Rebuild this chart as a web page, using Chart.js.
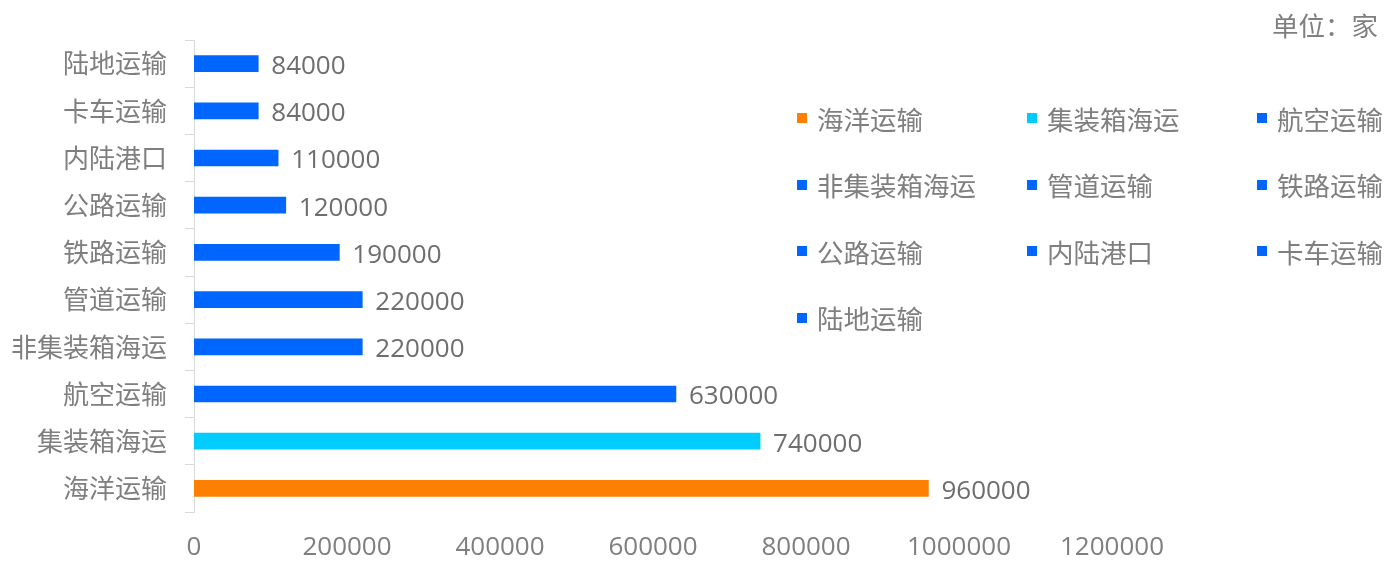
<!DOCTYPE html>
<html>
<head>
<meta charset="utf-8">
<script src="https://cdn.jsdelivr.net/npm/chart.js@4.4.1/dist/chart.umd.min.js"></script>
<style>
  html, body { margin: 0; padding: 0; background: #fff; }
  #wrap { position: relative; width: 1399px; height: 562px; }
  #unit { position: absolute; right: 21px; top: 5px; font: 26.5px "Noto Sans CJK SC", sans-serif; color: #7f7f7f; }
  #legend { position: absolute; left: 797px; top: 99px; display: grid; grid-template-columns: 230px 230px 130px; grid-auto-rows: 66.6px; }
  .item { display: flex; align-items: center; height: 38px; font: 26.5px "Noto Sans CJK SC", sans-serif; color: #7f7f7f; white-space: nowrap; }
  .item i { display: inline-block; width: 10px; height: 10px; margin-right: 10px; }
</style>
</head>
<body>
<div id="wrap">
  <canvas id="c" width="1399" height="562"></canvas>
  <div id="unit">单位：家</div>
  <div id="legend"></div>
</div>
<script>
// ── Data ──────────────────────────────────
const categories = ['海洋运输','集装箱海运','航空运输','非集装箱海运','管道运输','铁路运输','公路运输','内陆港口','卡车运输','陆地运输'];
const values = [960000, 740000, 630000, 220000, 220000, 190000, 120000, 110000, 84000, 84000];
const barColors = ['#FF7F00','#00CCFF','#0066FF','#0066FF','#0066FF','#0066FF','#0066FF','#0066FF','#0066FF','#0066FF'];
const xTicks = [0, 200000, 400000, 600000, 800000, 1000000, 1200000];

const FONT = '"Noto Sans CJK SC", sans-serif';
const NUM_FONT = '"Open Sans", "Noto Sans CJK SC", sans-serif';
const GREY = '#7f7f7f';

// value labels at the bar ends
const valueLabels = {
  id: 'valueLabels',
  afterDatasetsDraw(chart) {
    const ctx = chart.ctx;
    const meta = chart.getDatasetMeta(0);
    ctx.save();
    ctx.font = '26px ' + NUM_FONT;
    ctx.fillStyle = '#6e6e6e';
    ctx.textAlign = 'left';
    ctx.textBaseline = 'middle';
    meta.data.forEach((bar, i) => {
      ctx.fillText(String(values[i]), bar.x + 13, bar.y + 3);
    });
    ctx.restore();
  }
};

new Chart(document.getElementById('c'), {
  type: 'bar',
  data: {
    labels: categories,
    datasets: [{
      data: values,
      backgroundColor: barColors,
      barThickness: 16,
      borderWidth: 0,
    }]
  },
  options: {
    indexAxis: 'y',
    responsive: false,
    animation: false,
    layout: { padding: { top: 40, right: 287, left: 0, bottom: 0 } },
    plugins: { legend: { display: false }, tooltip: { enabled: false } },
    scales: {
      x: {
        min: 0,
        max: 1200000,
        afterBuildTicks: s => { s.ticks = xTicks.map(v => ({ value: v })); },
        grid: { display: false, drawTicks: false },
        border: { display: false },
        ticks: { color: GREY, font: { family: NUM_FONT, size: 26 }, padding: 20, maxRotation: 0, callback: v => String(v) },
        afterFit: s => { s.height = 50; }
      },
      y: {
        reverse: true,
        grid: { drawOnChartArea: false, offset: true, tickLength: 9, color: '#d9d9d9' },
        border: { color: '#d9d9d9', width: 1 },
        ticks: { color: GREY, font: { family: FONT, size: 26 }, padding: 18 },
        afterFit: s => { s.width = 194; }
      }
    }
  },
  plugins: [valueLabels]
});

// legend built from the same arrays
const legend = document.getElementById('legend');
categories.forEach((name, i) => {
  const el = document.createElement('div');
  el.className = 'item';
  el.innerHTML = '<i style="background:' + barColors[i] + '"></i>' + name;
  legend.appendChild(el);
});
</script>
</body>
</html>
